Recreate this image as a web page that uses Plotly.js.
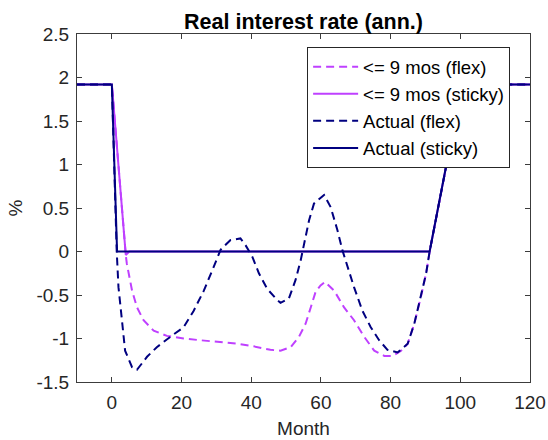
<!DOCTYPE html>
<html>
<head>
<meta charset="utf-8">
<script src="https://cdn.plot.ly/plotly-3.0.1.min.js"></script>
<style>html,body{margin:0;padding:0;background:#fff;}#chart{width:548px;height:440px;}</style>
</head>
<body>
<div id="chart"></div>
<script>
// Data
const seriesNames = ["<= 9 mos (flex)", "<= 9 mos (sticky)", "Actual (flex)", "Actual (sticky)"];

const nineFlexX = [-10, 0, 4, 4.3, 5.8, 7.2, 9.1, 12.0, 15.8, 20.6, 25.4, 32.1, 36, 40.7, 45.5, 48.4, 51.3, 53.7, 55.6, 57.1, 58.5, 59.9, 61.2, 63.8, 66.6, 69.5, 72.4, 75.3, 78.2, 80.6, 83, 84.9, 86.8, 88.7, 90.2, 91.2, 96.6, 100.5, 120];
const nineFlexY = [1.92, 1.92, -0.04, -0.14, -0.45, -0.64, -0.79, -0.91, -0.97, -1.00, -1.02, -1.04, -1.06, -1.09, -1.13, -1.14, -1.10, -0.98, -0.83, -0.64, -0.46, -0.39, -0.35, -0.45, -0.64, -0.79, -0.98, -1.14, -1.20, -1.20, -1.14, -1.06, -0.83, -0.52, -0.25, 0, 1.12, 1.92, 1.92];

const nineStickyX = [-10, 0, 4, 5, 91.2, 96.6, 100.5, 120];
const nineStickyY = [1.92, 1.92, -0.04, 0, 0, 1.12, 1.92, 1.92];

const actualFlexX = [-10, 0, 1.4, 1.9, 2.9, 3.8, 5.8, 7.2, 10.1, 12.9, 16.8, 20.6, 23.5, 26.4, 29.2, 31.2, 34, 36.9, 38.4, 40.3, 42.2, 44.6, 47.5, 48.4, 50.8, 52.7, 54.2, 55.6, 56.6, 58, 60.9, 62.8, 64.7, 66.2, 67.6, 69.5, 71.9, 74.3, 76.7, 79.1, 82, 84.9, 86.8, 88.7, 90.2, 91.2, 96.6, 100.5, 120];
const actualFlexY = [1.92, 1.92, 0, -0.41, -0.79, -1.14, -1.33, -1.36, -1.21, -1.10, -0.98, -0.87, -0.68, -0.45, -0.18, 0.02, 0.13, 0.15, 0.07, -0.06, -0.25, -0.43, -0.56, -0.59, -0.54, -0.33, -0.10, 0.17, 0.36, 0.55, 0.65, 0.51, 0.25, 0.01, -0.18, -0.41, -0.68, -0.87, -1.02, -1.13, -1.16, -1.06, -0.83, -0.52, -0.25, 0, 1.12, 1.92, 1.92];

const actualStickyX = [-10, 0, 1.5, 91.2, 96.6, 100.5, 120];
const actualStickyY = [1.92, 1.92, 0, 0, 1.12, 1.92, 1.92];

const xTickVals = [0, 20, 40, 60, 80, 100, 120];
const xTickText = ["0", "20", "40", "60", "80", "100", "120"];
const yTickVals = [-1.5, -1, -0.5, 0, 0.5, 1, 1.5, 2, 2.5];
const yTickText = ["-1.5", "-1", "-0.5", "0", "0.5", "1", "1.5", "2", "2.5"];

const purple = "rgb(191,64,255)";
const navy = "rgb(0,0,128)";
const dashPat = "8px,5px";
const FONT = "Liberation Sans, Arial, Helvetica, sans-serif";
const axisCol = "rgb(60,60,60)";
const txtCol = "rgb(38,38,38)";

const traces = [
  {x: nineFlexX, y: nineFlexY, name: seriesNames[0], mode: "lines", line: {color: purple, width: 2, dash: dashPat}},
  {x: nineStickyX, y: nineStickyY, name: seriesNames[1], mode: "lines", line: {color: purple, width: 2}},
  {x: actualFlexX, y: actualFlexY, name: seriesNames[2], mode: "lines", line: {color: navy, width: 2, dash: dashPat}},
  {x: actualStickyX, y: actualStickyY, name: seriesNames[3], mode: "lines", line: {color: navy, width: 2}}
];

const layout = {
  width: 548, height: 440,
  margin: {l: 76.5, r: 18, t: 34, b: 58.3, pad: 0},
  paper_bgcolor: "#fff", plot_bgcolor: "#fff",
  font: {family: FONT, size: 19, color: txtCol},
  title: {text: "<b>Real interest rate (ann.)</b>", font: {family: FONT, size: 21.5, color: "#000"},
          x: 0.5, xref: "paper", xanchor: "center", y: 1 - 21/440, yref: "container", yanchor: "middle"},
  showlegend: true,
  legend: {x: 0.508, y: 0.962, xanchor: "left", yanchor: "top",
           bgcolor: "#fff", bordercolor: "rgb(38,38,38)", borderwidth: 1,
           font: {family: FONT, size: 18.5, color: "#000"}, itemwidth: 45, tracegroupgap: 0},
  xaxis: {range: [-10, 120], tickvals: xTickVals, ticktext: xTickText,
          ticks: "inside", ticklen: 5, tickcolor: axisCol, tickwidth: 1,
          showline: true, linecolor: axisCol, linewidth: 1, mirror: "ticks",
          showgrid: false, zeroline: false, ticklabelstandoff: 3,
          tickfont: {family: FONT, size: 19, color: txtCol},
          title: {text: "Month", font: {family: FONT, size: 19, color: txtCol}, standoff: 9}},
  yaxis: {range: [-1.5, 2.5], tickvals: yTickVals, ticktext: yTickText,
          ticks: "inside", ticklen: 5, tickcolor: axisCol, tickwidth: 1,
          showline: true, linecolor: axisCol, linewidth: 1, mirror: "ticks",
          showgrid: false, zeroline: false, ticklabelstandoff: 3,
          tickfont: {family: FONT, size: 19, color: txtCol},
          title: {text: "%", font: {family: FONT, size: 19, color: txtCol}, standoff: 8}}
};

Plotly.newPlot("chart", traces, layout, {displayModeBar: false, staticPlot: true});
</script>
</body>
</html>
